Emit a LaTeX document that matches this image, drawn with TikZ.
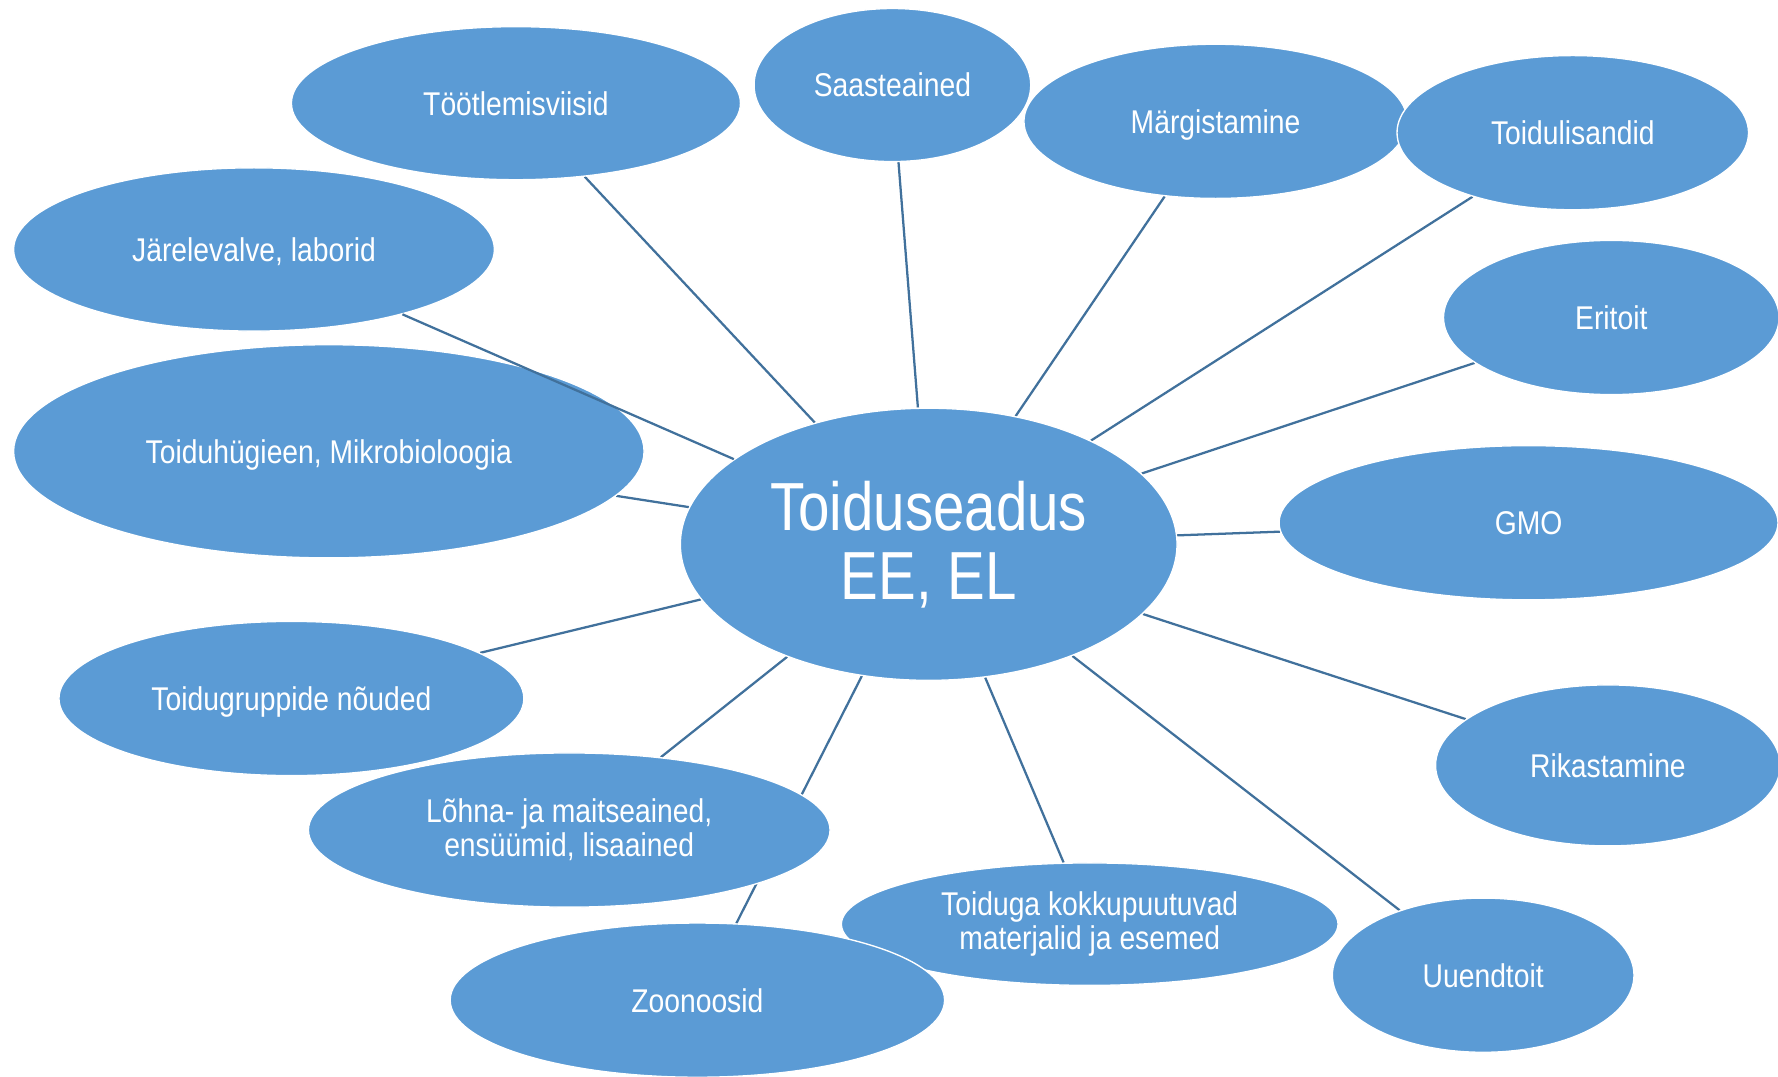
\documentclass[tikz,border=0pt]{standalone}
\usepackage{fontspec}
\newfontfamily\lblfont{Liberation Sans}[FakeStretch=0.86]
\newfontfamily\bigfont{Liberation Sans}[FakeStretch=0.83]
\usetikzlibrary{shapes.geometric,backgrounds}
\definecolor{nodeblue}{HTML}{5B9BD5}
\definecolor{linkblue}{HTML}{41719C}
\begin{document}
\begin{tikzpicture}[x=1pt,y=-1pt,
  bub/.style={ellipse, fill=nodeblue, draw=white, line width=1.2pt, inner sep=0pt,
    text=white, align=center, font=\lblfont\fontsize{29}{30}\selectfont},
  one/.style={text height=21pt, text depth=0pt},
  link/.style={draw=linkblue, line width=2pt}]
\useasboundingbox (0,0) rectangle (1568,949);
\node[bub, minimum width=438pt, minimum height=240pt, font=\bigfont\fontsize{60}{61}\selectfont] (c) at (819,480) {Toiduseadus\\EE, EL};
\node[bub, one, minimum width=396pt, minimum height=135pt] (toot) at (455,91) {Töötlemisviisid};
\node[bub, one, minimum width=244pt, minimum height=135pt] (saas) at (787,75) {Saasteained};
\node[bub, one, minimum width=338pt, minimum height=136pt] (marg) at (1072,107) {Märgistamine};
\node[bub, one, minimum width=310pt, minimum height=136pt] (lisa) at (1387,117) {Toidulisandid};
\node[bub, one, minimum width=424pt, minimum height=144pt] (jarel) at (224,220) {Järelevalve, laborid};
\node[bub, one, minimum width=296pt, minimum height=136pt] (eri) at (1421,280) {Eritoit};
\node[bub, one, minimum width=556pt, minimum height=188pt] (hyg) at (290,398) {Toiduhügieen, Mikrobioloogia};
\node[bub, one, minimum width=440pt, minimum height=136pt] (gmo) at (1348,461) {GMO};
\node[bub, one, minimum width=410pt, minimum height=136pt] (grup) at (257,616) {Toidugruppide nõuded};
\node[bub, one, minimum width=304pt, minimum height=142pt] (rik) at (1418,675) {Rikastamine};
\node[bub, minimum width=460pt, minimum height=136pt] (lohna) at (502,732) {Lõhna- ja maitseained,\\ensüümid, lisaained};
\node[bub, minimum width=438pt, minimum height=108pt] (kokku) at (961,815) {Toiduga kokkupuutuvad\\materjalid ja esemed};
\node[bub, one, minimum width=436pt, minimum height=136pt] (zoo) at (615,882) {Zoonoosid};
\node[bub, one, minimum width=266pt, minimum height=136pt] (uuend) at (1308,860) {Uuendtoit};
\begin{scope}[on background layer]
\draw[link] (c) -- (toot);
\draw[link] (c) -- (saas);
\draw[link] (c) -- (marg);
\draw[link] (c) -- (lisa);
\draw[link] (c) -- (eri);
\draw[link] (c) -- (gmo);
\draw[link] (c) -- (rik);
\draw[link] (c) -- (uuend);
\draw[link] (c) -- (kokku);
\draw[link] (c) -- (zoo);
\draw[link] (c) -- (lohna);
\draw[link] (c) -- (grup);
\draw[link] (c) -- (hyg);
\end{scope}
\draw[link] (jarel) -- (c);
\end{tikzpicture}
\end{document}
